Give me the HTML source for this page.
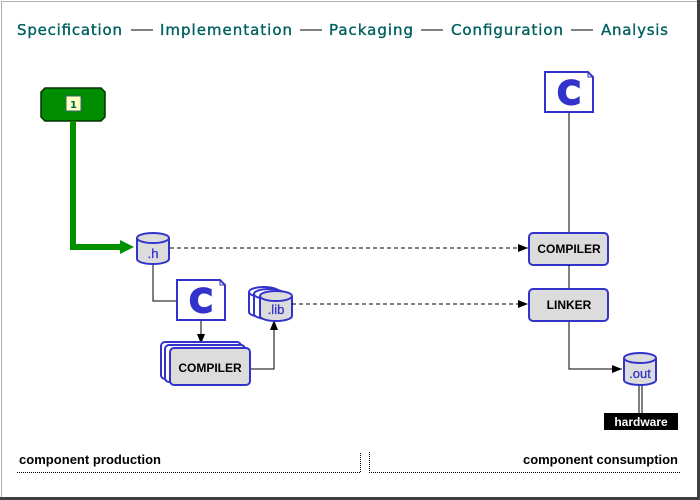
<!DOCTYPE html>
<html><head><meta charset="utf-8"><style>
html,body{margin:0;padding:0;background:#fff;}
svg{display:block;}
.t{font-family:"DejaVu Sans",Verdana,sans-serif;font-size:15px;fill:#006060;stroke:#006060;stroke-width:0.35;}
.b{font-family:"Liberation Sans",Arial,sans-serif;font-weight:bold;font-size:12px;fill:#000;}
.bb{font-family:"Liberation Sans",Arial,sans-serif;font-weight:bold;font-size:13px;fill:#000;}
.cyl{font-family:"Liberation Sans",Arial,sans-serif;font-size:13px;fill:#3333cc;stroke:#3333cc;stroke-width:0.3;}
.bx{fill:#dcdcdc;stroke:#3333cc;stroke-width:2;}
.cc{font-family:"DejaVu Sans",sans-serif;font-weight:bold;font-size:32px;fill:#3333cc;stroke:#3333cc;stroke-width:2;}
</style></head><body>
<svg width="700" height="500" viewBox="0 0 700 500" xmlns="http://www.w3.org/2000/svg">
<defs>
<marker id="ah" markerWidth="10" markerHeight="8" refX="10" refY="4" orient="auto" markerUnits="userSpaceOnUse"><path d="M0,0 L10,4 L0,8z" fill="#000"/></marker>
</defs>
<rect x="0" y="0" width="700" height="500" fill="#fff"/>
<path d="M1.5,499 V1.5 H697" stroke="#b0b0b0" fill="none"/>
<rect x="697" y="0" width="3" height="500" fill="#404040"/>
<rect x="0" y="497" width="700" height="3" fill="#404040"/>

<text class="t" x="17" y="35" textLength="105">Specification</text>
<line x1="131" y1="30" x2="153" y2="30" stroke="#000"/>
<text class="t" x="160" y="35" textLength="132">Implementation</text>
<line x1="300" y1="30" x2="322" y2="30" stroke="#000"/>
<text class="t" x="329" y="35" textLength="84">Packaging</text>
<line x1="421" y1="30" x2="443" y2="30" stroke="#000"/>
<text class="t" x="451" y="35" textLength="112">Configuration</text>
<line x1="571" y1="30" x2="593" y2="30" stroke="#000"/>
<text class="t" x="601" y="35" textLength="67">Analysis</text>

<path d="M45,88 H101 L105,92 V117 L101,121 H45 L41,117 V92z" fill="#008c00" stroke="#003300" stroke-width="1.5"/>
<rect x="66" y="96" width="15" height="15" fill="#ffffc0" stroke="#336666"/>
<text x="73.5" y="108" text-anchor="middle" font-family="DejaVu Sans,sans-serif" font-weight="bold" font-size="10" fill="#006060">1</text>
<path d="M73,121 V247 H121" stroke="#009000" stroke-width="6" fill="none"/>
<path d="M120,240 L134,247 L120,254z" fill="#009000"/>

<g>
<path d="M137,238 V259 A16,5 0 0 0 169,259 V238" class="bx"/>
<ellipse cx="153" cy="238" rx="16" ry="5" class="bx"/>
<text class="cyl" x="153" y="258" text-anchor="middle">.h</text>
</g>
<line x1="170" y1="248" x2="528" y2="248" stroke="#000" stroke-dasharray="4,3" marker-end="url(#ah)"/>
<path d="M153,265 V301 H177" stroke="#000" fill="none"/>

<path d="M177,280 H220 L225,285 V320 H177z" fill="#fff" stroke="#3333cc" stroke-width="2"/>
<path d="M220,280 V285 H225" fill="none" stroke="#3333cc"/>
<text class="cc" x="201" y="312" text-anchor="middle">C</text>
<line x1="201" y1="321" x2="201" y2="344" stroke="#000" marker-end="url(#ah)"/>

<rect x="161" y="342" width="80" height="37" rx="4" class="bx" style="fill:#fff"/>
<rect x="165" y="345" width="80" height="37" rx="4" class="bx" style="fill:#fff"/>
<rect x="170" y="348" width="80" height="37" rx="4" class="bx"/>
<text class="b" x="210" y="372" text-anchor="middle">COMPILER</text>
<path d="M251,369 H274 V320" stroke="#000" fill="none" marker-end="url(#ah)"/>

<g>
<path d="M249,292 V312 A15,5 0 0 0 279,312 V292" class="bx" style="fill:#fff"/>
<ellipse cx="264" cy="292" rx="15" ry="5" class="bx" style="fill:#fff"/>
<path d="M254,294 V314 A15,5 0 0 0 284,314 V294" class="bx" style="fill:#fff"/>
<ellipse cx="269" cy="294" rx="15" ry="5" class="bx" style="fill:#fff"/>
<path d="M260,296 V316 A16,5 0 0 0 292,316 V296" class="bx"/>
<ellipse cx="276" cy="296" rx="16" ry="5" class="bx"/>
<text class="cyl" x="276" y="314" text-anchor="middle" font-size="12">.lib</text>
</g>
<line x1="292" y1="304" x2="528" y2="304" stroke="#000" stroke-dasharray="4,3" marker-end="url(#ah)"/>

<path d="M545,72 H588 L593,77 V112 H545z" fill="#fff" stroke="#3333cc" stroke-width="2"/>
<path d="M588,72 V77 H593" fill="none" stroke="#3333cc"/>
<text class="cc" x="569" y="104" text-anchor="middle">C</text>
<line x1="569" y1="113" x2="569" y2="233" stroke="#000"/>

<rect x="529" y="233" width="79" height="32" rx="4" class="bx"/>
<text class="b" x="569" y="253" text-anchor="middle">COMPILER</text>
<line x1="569" y1="265" x2="569" y2="289" stroke="#000"/>
<rect x="529" y="289" width="79" height="32" rx="4" class="bx"/>
<text class="b" x="569" y="309" text-anchor="middle">LINKER</text>
<path d="M569,322 V369 H622" stroke="#000" fill="none" marker-end="url(#ah)"/>

<path d="M624,358 V380 A16,5 0 0 0 656,380 V358" class="bx"/>
<ellipse cx="640" cy="358" rx="16" ry="5" class="bx"/>
<text class="cyl" x="640" y="378" text-anchor="middle">.out</text>
<line x1="639" y1="386" x2="639" y2="413" stroke="#000"/>
<line x1="642" y1="386" x2="642" y2="413" stroke="#000"/>
<rect x="604" y="413" width="74" height="17" fill="#000"/>
<text x="641" y="426" text-anchor="middle" font-family="Liberation Sans,Arial,sans-serif" font-weight="bold" font-size="12" fill="#fff">hardware</text>

<text class="bb" x="19" y="464" textLength="142">component production</text>
<path d="M17,472.5 H360.5 V452" stroke="#000" stroke-dasharray="1,1" fill="none"/>
<path d="M369.5,452 V472.5 H680" stroke="#000" stroke-dasharray="1,1" fill="none"/>
<text class="bb" x="678" y="464" text-anchor="end" textLength="155">component consumption</text>
</svg>
</body></html>
